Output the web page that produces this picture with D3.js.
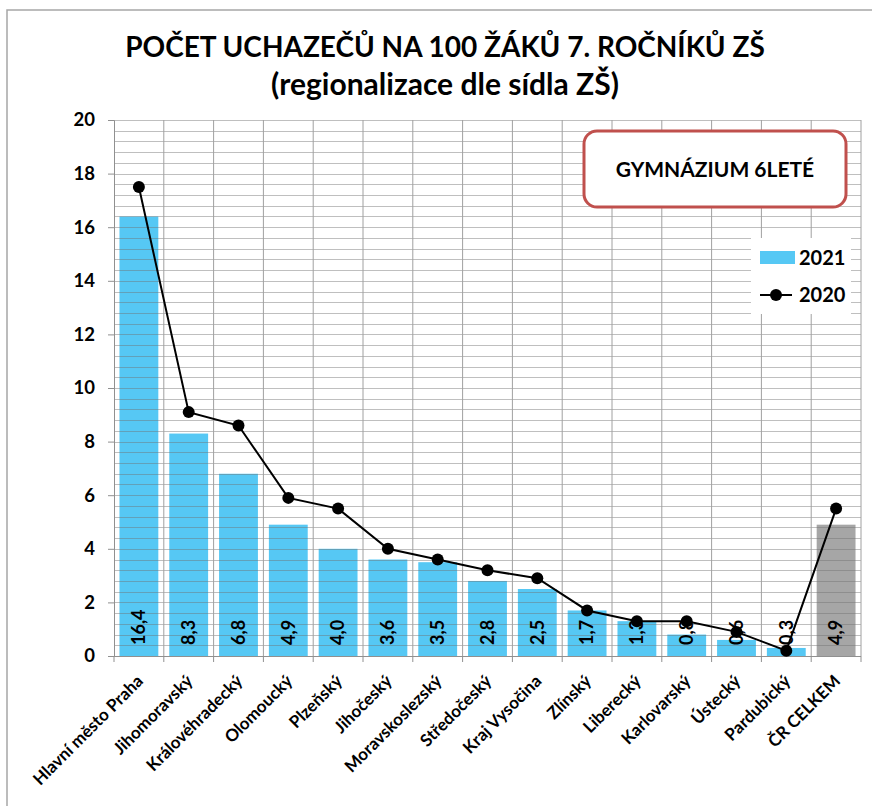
<!DOCTYPE html>
<html><head><meta charset="utf-8">
<script src="https://cdn.jsdelivr.net/npm/d3@7"></script>
<style>
body{margin:0;background:#fff;}
svg{display:block;font-family:Lato, "Noto Sans", sans-serif;font-weight:700;}
</style></head>
<body>
<svg id="c" width="872" height="806"></svg>
<script>
const categories = ["Hlavní město Praha","Jihomoravský","Královéhradecký","Olomoucký","Plzeňský","Jihočeský","Moravskoslezský","Středočeský","Kraj Vysočina","Zlínský","Liberecký","Karlovarský","Ústecký","Pardubický","ČR CELKEM"];
const values2021 = [16.4, 8.3, 6.8, 4.9, 4.0, 3.6, 3.5, 2.8, 2.5, 1.7, 1.3, 0.8, 0.6, 0.3, 4.9];
const values2020 = [17.5, 9.1, 8.6, 5.9, 5.5, 4.0, 3.6, 3.2, 2.9, 1.7, 1.3, 1.3, 0.9, 0.2, 5.5];
const yTicks = [0,2,4,6,8,10,12,14,16,18,20];
const titleLines = ["POČET UCHAZEČŮ NA 100 ŽÁKŮ 7. ROČNÍKŮ ZŠ","(regionalizace dle sídla ZŠ)"];
const boxText = "GYMNÁZIUM 6LETÉ";
const seriesNames = ["2021","2020"];

const svg = d3.select("#c");
const L = 114, R = 861, T = 120, B = 656;

// outer border
svg.append("rect").attr("x",7).attr("y",10).attr("width",900).attr("height",900)
  .attr("fill","#fff").attr("stroke","#a6a6a6").attr("stroke-width",1.5);

const x = d3.scaleBand().domain(categories).range([L,R]).paddingInner(0.22).paddingOuter(0.11);
const xb = d3.scaleBand().domain(categories).range([L,R]).padding(0);
const y = d3.scaleLinear().domain([0,20]).range([B,T]);

// title
const titleSizes = [28,30];
svg.append("g").selectAll("text").data(titleLines).join("text")
  .attr("x",445).attr("y",(d,i)=>57+i*38).attr("text-anchor","middle")
  .attr("font-size",(d,i)=>titleSizes[i]).attr("fill","#000").text(d=>d);

// bars
svg.append("g").selectAll("rect").data(categories).join("rect")
  .attr("x",d=>x(d)).attr("width",x.bandwidth())
  .attr("y",(d,i)=>y(values2021[i])).attr("height",(d,i)=>B-y(values2021[i]))
  .attr("fill",(d,i)=>i===categories.length-1?"#a6a6a6":"#56c8f4");

// horizontal gridlines (minor every 0.4)
const hg = d3.range(0,20.001,0.4).map(v=>+v.toFixed(1));
svg.append("g").selectAll("line").data(hg.filter(v=>v>0)).join("line")
  .attr("x1",L).attr("x2",R).attr("y1",d=>Math.round(y(d))+0.5).attr("y2",d=>Math.round(y(d))+0.5)
  .attr("stroke","#707070").attr("stroke-opacity",0.45).attr("stroke-width",1);
// vertical gridlines at category boundaries
svg.append("g").selectAll("line").data(categories.slice(1).concat(["__end"])).join("line")
  .attr("x1",d=>d==="__end"?R:xb(d)).attr("x2",d=>d==="__end"?R:xb(d))
  .attr("y1",T).attr("y2",B)
  .attr("stroke","#a0a0a0").attr("stroke-width",1);

// y axis
const yAxis = d3.axisLeft(y).tickValues(yTicks).tickSize(6).tickPadding(13).tickFormat(d3.format("d"));
const ga = svg.append("g").attr("transform",`translate(${L},0)`).call(yAxis);
ga.select(".domain").attr("stroke","#909090");
ga.selectAll(".tick line").attr("stroke","#909090");
ga.selectAll("text").attr("font-size",18.5).attr("font-family","Lato").attr("font-weight",700).attr("fill","#000");

// x axis
svg.append("line").attr("x1",L).attr("x2",R).attr("y1",B+0.5).attr("y2",B+0.5).attr("stroke","#909090");
svg.append("g").selectAll("line").data(categories.concat(["__end"])).join("line")
  .attr("x1",d=>d==="__end"?R:xb(d)).attr("x2",d=>d==="__end"?R:xb(d))
  .attr("y1",B).attr("y2",B+6).attr("stroke","#909090");

// x labels
svg.append("g").selectAll("text").data(categories).join("text")
  .attr("transform",d=>`translate(${xb(d)+xb.bandwidth()/2+1},${B+22}) rotate(-45)`)
  .attr("text-anchor","end").attr("dy","0.35em").attr("font-size",17).attr("fill","#000").text(d=>d);

// bar labels
svg.append("g").selectAll("text").data(categories).join("text")
  .attr("transform",d=>`translate(${x(d)+x.bandwidth()/2},${B-11}) rotate(-90)`)
  .attr("text-anchor","start").attr("dy","0.35em").attr("font-size",18).attr("fill","#000")
  .text((d,i)=>d3.format(".1f")(values2021[i]).replace(".",","));

// line 2020
const line = d3.line().x((d,i)=>xb(categories[i])+xb.bandwidth()/2).y(d=>y(d));
svg.append("path").datum(values2020).attr("d",line).attr("fill","none").attr("stroke","#000").attr("stroke-width",2);
svg.append("g").selectAll("circle").data(values2020).join("circle")
  .attr("cx",(d,i)=>xb(categories[i])+xb.bandwidth()/2).attr("cy",d=>y(d)).attr("r",6).attr("fill","#000");

// box
svg.append("rect").attr("x",584).attr("y",131).attr("width",262).attr("height",76).attr("rx",13)
  .attr("fill","#fff").attr("stroke","#c0504d").attr("stroke-width",3);
svg.append("text").attr("x",715).attr("y",170).attr("dy","0.35em").attr("text-anchor","middle")
  .attr("font-size",21).attr("fill","#000").text(boxText);

// legend
const lg = svg.append("g");
lg.append("rect").attr("x",751).attr("y",238).attr("width",100).attr("height",76).attr("fill","#fff");
lg.append("rect").attr("x",760).attr("y",251).attr("width",35).attr("height",13).attr("fill","#56c8f4");
lg.append("line").attr("x1",760).attr("x2",792).attr("y1",295).attr("y2",295).attr("stroke","#000").attr("stroke-width",2);
lg.append("circle").attr("cx",776).attr("cy",295).attr("r",6).attr("fill","#000");
lg.selectAll("text").data(seriesNames).join("text")
  .attr("x",799).attr("y",(d,i)=>258+i*37).attr("dy","0.35em").attr("font-size",20).attr("fill","#000").text(d=>d);
</script>
</body></html>
